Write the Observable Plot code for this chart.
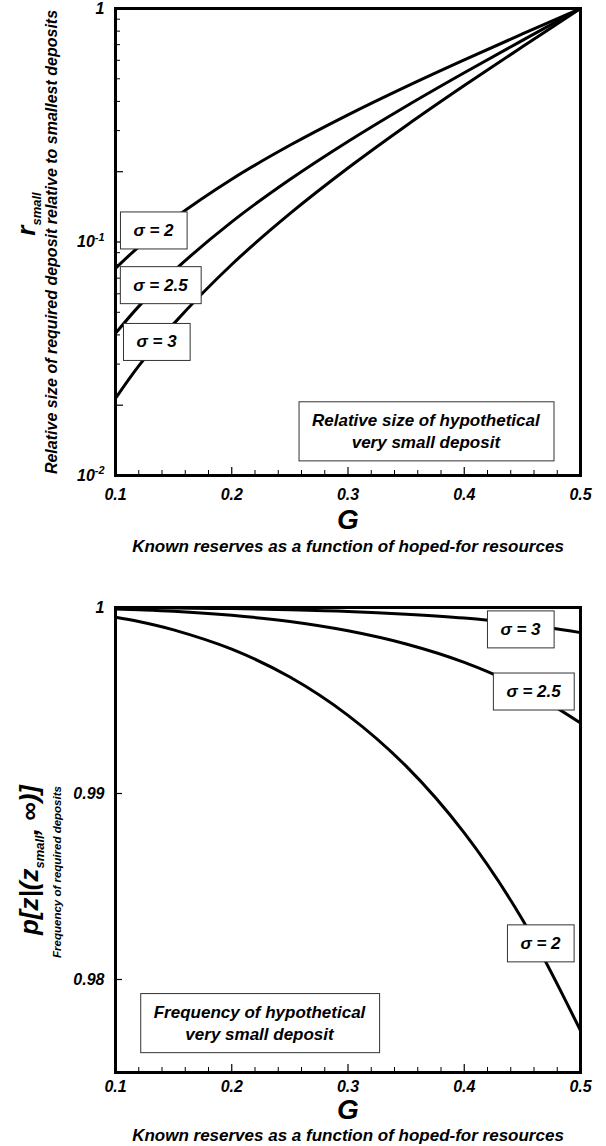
<!DOCTYPE html>
<html>
<head>
<meta charset="utf-8">
<script src="https://cdn.jsdelivr.net/npm/d3@7"></script>
<script src="https://cdn.jsdelivr.net/npm/@observablehq/plot@0.6"></script>
<style>
  body { margin: 0; background: #fff; }
  #chart svg { display: block; }
</style>
</head>
<body>
<div id="chart"></div>
<script>
// ---- data ----
const G = [0.10, 0.12, 0.15, 0.20, 0.25, 0.30, 0.35, 0.40, 0.45, 0.50];
const sigmaNames = ["2", "2.5", "3"];
// top panel: r_small
const rSmall2  = [0.0771, 0.0954, 0.1258, 0.1858, 0.2595, 0.3504, 0.4628, 0.6025, 0.7777, 1];
const rSmall25 = [0.0406, 0.0530, 0.0750, 0.1220, 0.1852, 0.2696, 0.3817, 0.5309, 0.7304, 1];
const rSmall3  = [0.0214, 0.0295, 0.0446, 0.0801, 0.1322, 0.2074, 0.3148, 0.4677, 0.6859, 1];
// bottom panel: p[z|(z_small, inf)]
const pReq2  = [0.99948, 0.99925, 0.99880, 0.99776, 0.99626, 0.99420, 0.99147, 0.98788, 0.98323, 0.97725];
const pReq25 = [0.99992, 0.99988, 0.99980, 0.99958, 0.99925, 0.99875, 0.99804, 0.99705, 0.99568, 0.99379];
const pReq3  = [0.99999, 0.99999, 0.99997, 0.99994, 0.99988, 0.99979, 0.99964, 0.99943, 0.99911, 0.99865];

// ticks
const xTickLabels = [0.1, 0.2, 0.3, 0.4, 0.5];
const xMidTicks = [0.2, 0.3, 0.4];
const xMinorTicks = [0.12, 0.14, 0.16, 0.18, 0.22, 0.24, 0.26, 0.28, 0.32, 0.34, 0.36, 0.38, 0.42, 0.44, 0.46, 0.48];
const yTopLabels = [1, 0.1, 0.01];
const yTopLabelText = ["1", "10^{-1}", "10^{-2}"];
const yTopMajor = [0.1, 0.2, 0.02];
const yTopMinor = [0.03, 0.04, 0.05, 0.06, 0.07, 0.08, 0.09, 0.3, 0.4, 0.5, 0.6, 0.7, 0.8, 0.9];
const yBottomLabels = [1, 0.99, 0.98];
const yBottomLabelText = ["1", "0.99", "0.98"];

// annotation label positions (data units)
const topLabelG = [0.1327, 0.1387, 0.1353];
const topLabelR = [0.112, 0.0653, 0.0373];
const bottomLabelG = [0.4656, 0.4596, 0.4484];
const bottomLabelP = [0.98194, 0.99548, 0.99882];
const topNote = {G: 0.367, r: 0.0157, text: "Relative size of hypothetical\nvery small deposit"};
const bottomNote = {G: 0.2239, p: 0.97774, text: "Frequency of hypothetical\nvery small deposit"};

const xTitle = "G";
const xCaption = "Known reserves as a function of hoped-for resources";
const topYTitle = "r_{small}";
const topYSub = "Relative size of required deposit relative to smallest deposits";
const botYTitle = "p[z|(z_{small}, ∞)]";
const botYSub = "Frequency of required deposits";

// ---- tidy tables ----
const topSeries = [rSmall2, rSmall25, rSmall3];
const botSeries = [pReq2, pReq25, pReq3];
const topData = sigmaNames.flatMap((s, k) => G.map((g, i) => ({G: g, v: topSeries[k][i], s})));
const botData = sigmaNames.flatMap((s, k) => G.map((g, i) => ({G: g, v: botSeries[k][i], s})));
const topLabels = sigmaNames.map((s, k) => ({G: topLabelG[k], v: topLabelR[k], text: `σ = ${s}`}));
const botLabels = sigmaNames.map((s, k) => ({G: bottomLabelG[k], v: bottomLabelP[k], text: `σ = ${s}`}));

const W = 606, ML = 115, MR = 26;
const PW = W - ML - MR;
const font = "'Liberation Sans', Arial, Helvetica, sans-serif";
const baseStyle = {fontFamily: font, fontSize: "16px", fontWeight: "bold", fontStyle: "italic", color: "black", background: "white", overflow: "visible"};
const centered = {textAnchor: "middle", lineAnchor: "middle"};

function commonX(ph, padding) {
  return [
    Plot.tickX(xMinorTicks, {x: d => d, insetTop: ph - 5, strokeWidth: 1}),
    Plot.tickX(xMidTicks, {x: d => d, insetTop: ph - 8, strokeWidth: 1.2}),
    Plot.axisX(xTickLabels, {tickSize: 0, tickPadding: padding, tickFormat: d3.format(".1f"), label: null})
  ];
}

// ---- top panel ----
const topPH = 467;
const topChart = Plot.plot({
  width: W, height: 590,
  marginLeft: ML, marginRight: MR, marginTop: 8, marginBottom: 590 - 8 - topPH,
  style: baseStyle,
  x: {domain: [0.1, 0.5]},
  y: {type: "log", domain: [0.01, 1]},
  marks: [
    Plot.line(topData, {x: "G", y: "v", z: "s", stroke: "black", strokeWidth: 3, curve: "catmull-rom"}),
    Plot.frame({strokeWidth: 3}),
    Plot.tickY(yTopMinor, {y: d => d, insetRight: PW - 5, strokeWidth: 1}),
    Plot.tickY(yTopMajor, {y: d => d, insetRight: PW - 8, strokeWidth: 1.2}),
    Plot.axisY(yTopLabels, {tickSize: 0, tickPadding: 11, tickFormat: d => yTopLabelText[yTopLabels.indexOf(d)], label: null}),
    ...commonX(topPH, 13),
    Plot.text([xTitle], {frameAnchor: "bottom", dy: 45, text: d => d, fontSize: 28, ...centered}),
    Plot.text([xCaption], {frameAnchor: "bottom", dy: 71, text: d => d, fontSize: 17, ...centered}),
    Plot.text([topYTitle], {frameAnchor: "left", rotate: -90, dx: -89, dy: -28, text: d => d, fontSize: 26, ...centered}),
    Plot.text([topYSub], {frameAnchor: "left", rotate: -90, dx: -64, dy: 0, text: d => d, fontSize: 16, ...centered}),
    Plot.text(topLabels, {x: "G", y: "v", text: "text", fontSize: 17, ariaDescription: "boxed"}),
    Plot.text([topNote], {x: "G", y: "r", text: "text", fontSize: 17, lineHeight: 1.3, ariaDescription: "boxed"})
  ]
});

// ---- bottom panel ----
const botPH = 465;
const botChart = Plot.plot({
  width: W, height: 556,
  marginLeft: ML, marginRight: MR, marginTop: 17, marginBottom: 556 - 17 - botPH,
  style: baseStyle,
  x: {domain: [0.1, 0.5]},
  y: {domain: [0.975, 1]},
  marks: [
    Plot.line(botData, {x: "G", y: "v", z: "s", stroke: "black", strokeWidth: 3, curve: "catmull-rom"}),
    Plot.frame({strokeWidth: 3}),
    Plot.tickY(yBottomLabels, {y: d => d, insetRight: PW - 7, strokeWidth: 1.2}),
    Plot.axisY(yBottomLabels, {tickSize: 0, tickPadding: 11, tickFormat: d => yBottomLabelText[yBottomLabels.indexOf(d)], label: null}),
    ...commonX(botPH, 8),
    Plot.text([xTitle], {frameAnchor: "bottom", dy: 38, text: d => d, fontSize: 28, ...centered}),
    Plot.text([xCaption], {frameAnchor: "bottom", dy: 63, text: d => d, fontSize: 17, ...centered}),
    Plot.text([botYTitle], {frameAnchor: "left", rotate: -90, dx: -86, dy: 20, text: d => d, fontSize: 26, ...centered}),
    Plot.text([botYSub], {frameAnchor: "left", rotate: -90, dx: -58, dy: 32, text: d => d, fontSize: 11.5, ...centered}),
    Plot.text(botLabels, {x: "G", y: "v", text: "text", fontSize: 17, ariaDescription: "boxed"}),
    Plot.text([bottomNote], {x: "G", y: "p", text: "text", fontSize: 17, lineHeight: 1.3, ariaDescription: "boxed"})
  ]
});

const host = document.getElementById("chart");
host.appendChild(topChart);
host.appendChild(botChart);

const NS = "http://www.w3.org/2000/svg";
function richify(svg) {
  svg.querySelectorAll("text").forEach(t => {
    if (t.querySelector("tspan")) return;
    const s = t.textContent;
    if (!/[_^]\{/.test(s)) return;
    const fs = parseFloat(getComputedStyle(t).fontSize);
    t.textContent = "";
    const re = /([_^])\{([^}]*)\}/g;
    let last = 0, m, pending = 0;
    const add = (txt, size, dy) => {
      const ts = document.createElementNS(NS, "tspan");
      ts.textContent = txt;
      if (size) ts.setAttribute("font-size", size);
      if (dy) ts.setAttribute("dy", dy);
      t.appendChild(ts);
    };
    while ((m = re.exec(s))) {
      if (m.index > last) { add(s.slice(last, m.index), null, pending); pending = 0; }
      const sub = m[1] === "_";
      const shift = sub ? fs * 0.22 : -fs * 0.4;
      add(m[2], sub ? fs * 0.5 : fs * 0.68, pending + shift);
      pending = -shift;
      last = re.lastIndex;
    }
    if (last < s.length) add(s.slice(last), null, pending);
  });
}
function boxify(svg, padX, padY) {
  svg.querySelectorAll('g[aria-description="boxed"] text').forEach(t => {
    const b = t.getBBox();
    const r = document.createElementNS(NS, "rect");
    r.setAttribute("x", b.x - padX);
    r.setAttribute("y", b.y - padY);
    r.setAttribute("width", b.width + 2 * padX);
    r.setAttribute("height", b.height + 2 * padY);
    r.setAttribute("fill", "white");
    r.setAttribute("stroke", "#333");
    r.setAttribute("stroke-width", 1);
    const tr = t.getAttribute("transform");
    if (tr) r.setAttribute("transform", tr);
    t.parentNode.insertBefore(r, t);
  });
}
[topChart, botChart].forEach(svg => { richify(svg); boxify(svg, 13, 9); });
</script>
</body>
</html>
